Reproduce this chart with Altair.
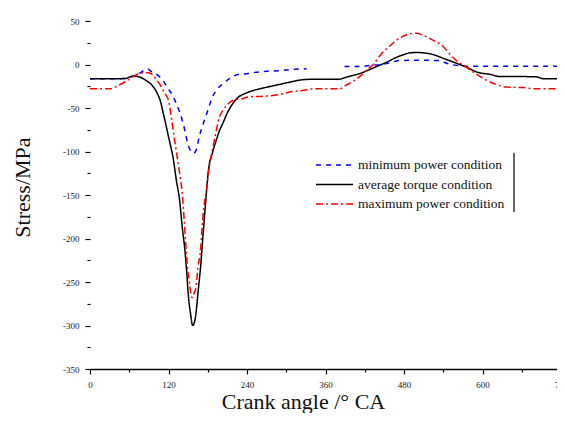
import altair as alt
import pandas as pd

series_names = ["minimum power condition", "average torque condition", "maximum power condition"]
series_colors = ["#0000ff", "#000000", "#ff0000"]
series_dash = [[5, 5], [1, 0], [7, 3, 2, 3]]

x_major = [0, 120, 240, 360, 480, 600, 720]
x_minor = [60, 180, 300, 420, 540, 660]
y_major = [-350, -300, -250, -200, -150, -100, -50, 0, 50]
y_minor = [-325, -275, -225, -175, -125, -75, -25, 25]

# minimum power condition (blue, dashed) - two visible pieces
min_angle_a = [0, 30, 55, 62, 70, 78, 84, 88, 93, 100, 107, 112, 118, 125, 133, 141, 145, 149, 153, 158,
               162, 167, 174, 180, 187, 195, 205, 215, 226, 240, 249, 270, 290, 310, 331]
min_value_a = [-16.5, -16.5, -16, -14, -12, -9, -6, -5, -7.7, -10.5, -14.5, -19, -26, -34, -47, -64, -76, -90, -98, -102,
               -99, -83, -66, -53, -37.5, -28, -21, -15.5, -11.5, -10.5, -9.5, -7.7, -7.2, -5.5, -5]
min_angle_b = [389, 410, 430, 453, 465, 473, 500, 534, 545, 560, 580, 620, 680, 720]
min_value_b = [-2.3, -2.3, -1, 1, 3.5, 4.6, 4.8, 4.6, 1.5, -1, -2, -2, -2, -2]

# average torque condition (black, solid)
avg_angle = [0, 30, 55, 62, 70, 78, 85, 95, 102, 108, 112, 116, 120, 124, 127, 132, 137, 141, 145, 148,
             150, 154, 157, 160, 162, 165, 169, 173, 177, 181, 187, 193, 198, 204, 209, 214, 220, 226, 235,
             249, 265, 280, 295, 310, 325, 340, 380, 392, 412, 433, 453, 471, 480, 489, 500, 509, 524, 542,
             560, 575, 592, 613, 626, 680, 695, 720]
avg_value = [-16.5, -16.5, -16, -14, -13.5, -15, -18, -24, -32, -43, -56, -69, -83, -96, -107, -133, -156, -187, -213, -240,
             -262, -288, -300, -295, -286, -263, -233, -194, -156, -122, -102, -87, -76, -66, -57, -50, -43, -38, -34,
             -30, -27, -24.5, -22, -19.5, -17.5, -17, -17, -14.5, -10.5, -4, 2.5, 9, 11.5, 13.4, 13.8, 13.4, 11.5, 6.5,
             1.5, -3, -8.8, -11.5, -13.8, -14, -16.5, -16.5]

# maximum power condition (red, dash-dot)
max_angle = [0, 30, 40, 46, 56, 66, 75, 81, 88, 92, 97, 102, 107, 112, 116, 120, 125, 128, 131, 134,
             137, 141, 144, 146, 149, 152, 154, 156, 159, 162, 165, 169, 171, 174, 178, 181, 184, 188, 193,
             198, 203, 209, 219, 234, 244, 260, 290, 310, 325, 341, 382, 389, 397, 405, 417, 425, 433, 443,
             450, 458, 468, 483, 499, 511, 524, 540, 550, 560, 575, 590, 606, 621, 636, 661, 682, 720]
max_value = [-28, -28, -25.5, -23, -19, -13.8, -10.5, -9.5, -9.5, -10, -13, -18, -23, -30, -35, -41, -64, -80, -95, -110,
             -125, -148, -179, -202, -233, -250, -263, -268, -263, -256, -233, -213, -191, -164, -145, -125, -110, -95, -76,
             -60, -53, -47, -41, -39, -37, -36.7, -34.4, -31, -30, -28, -28, -25, -21.5, -18, -10.7, -5, 0, 10,
             16, 21, 27.5, 34, 36, 33, 28, 20.7, 12, 4.6, -3, -10.7, -18, -23, -26, -26.5, -28, -28]

rows = []
for a, v in zip(min_angle_a, min_value_a):
    rows.append({"angle": a, "stress": v, "series": series_names[0], "seg": "min_a"})
for a, v in zip(min_angle_b, min_value_b):
    rows.append({"angle": a, "stress": v, "series": series_names[0], "seg": "min_b"})
for a, v in zip(avg_angle, avg_value):
    rows.append({"angle": a, "stress": v, "series": series_names[1], "seg": "avg"})
for a, v in zip(max_angle, max_value):
    rows.append({"angle": a, "stress": v, "series": series_names[2], "seg": "max"})
df = pd.DataFrame(rows)

serif = "Liberation Serif"
x_scale = alt.Scale(domain=[0, 720], nice=False, zero=False)
y_scale = alt.Scale(domain=[-350, 50], nice=False, zero=False)

lines = alt.Chart(df).mark_line(strokeWidth=1.5, interpolate="monotone").encode(
    x=alt.X("angle:Q", scale=x_scale,
            axis=alt.Axis(orient="bottom", values=x_major, title="Crank angle /° CA", grid=False,
                          tickSize=5, tickColor="#000", tickWidth=1.2,
                          domainColor="#000", domainWidth=1.5, labelFlush=False,
                          labelFont=serif, labelFontSize=9, labelColor="#222", labelPadding=6,
                          titleFont=serif, titleFontSize=22, titleFontWeight="normal", titleColor="#111",
                          titleX=213, titleY=39, titleBaseline="alphabetic", titleAlign="center")),
    y=alt.Y("stress:Q", scale=y_scale,
            axis=alt.Axis(orient="left", values=y_major, title="Stress/MPa", grid=False, domain=False,
                          tickSize=5, tickColor="#000", tickWidth=1.2, labelFlush=False,
                          labelFont=serif, labelFontSize=9, labelColor="#222", labelPadding=6,
                          labelExpr="datum.value + ''",
                          titleFont=serif, titleFontSize=22, titleFontWeight="normal", titleColor="#111",
                          titleX=-68, titleY=166, titleAngle=-90, titleBaseline="middle", titleAlign="center")),
    color=alt.Color("series:N", scale=alt.Scale(domain=series_names, range=series_colors),
                    legend=alt.Legend(title=None, orient="none", legendX=225, legendY=137,
                                      symbolType="stroke", symbolSize=1369, symbolStrokeWidth=1.5,
                                      clipHeight=14,
                                      labelFont=serif, labelFontSize=13.5, labelColor="#111",
                                      labelOffset=4, labelLimit=300, padding=0, rowPadding=5.5)),
    strokeDash=alt.StrokeDash("series:N", scale=alt.Scale(domain=series_names, range=series_dash), legend=None),
    detail="seg:N",
)

minor = alt.Chart(df).mark_point(opacity=0).encode(
    x=alt.X("angle:Q", scale=x_scale,
            axis=alt.Axis(orient="bottom", values=x_minor, title=None, labels=False, domain=False, grid=False,
                          tickSize=3, tickColor="#000", tickWidth=1.2)),
    y=alt.Y("stress:Q", scale=y_scale,
            axis=alt.Axis(orient="left", values=y_minor, title=None, labels=False, domain=False, grid=False,
                          tickSize=3, tickColor="#000", tickWidth=1.2)),
)

legend_edge = alt.Chart(pd.DataFrame({"k": [0]})).mark_rule(color="#000", strokeWidth=1.2).encode(
    x=alt.value(424), y=alt.value(132), y2=alt.value(191)
)

chart = alt.layer(minor, lines, legend_edge).resolve_scale(
    x="independent", y="independent"
).properties(
    width=471, height=348,
    autosize=alt.AutoSizeParams(type="none"),
    padding={"left": 82, "top": 13, "right": -4, "bottom": 44},
    background="white",
).configure_view(stroke=None)

chart.save("out.html", embed_options={"renderer": "svg", "actions": False})
